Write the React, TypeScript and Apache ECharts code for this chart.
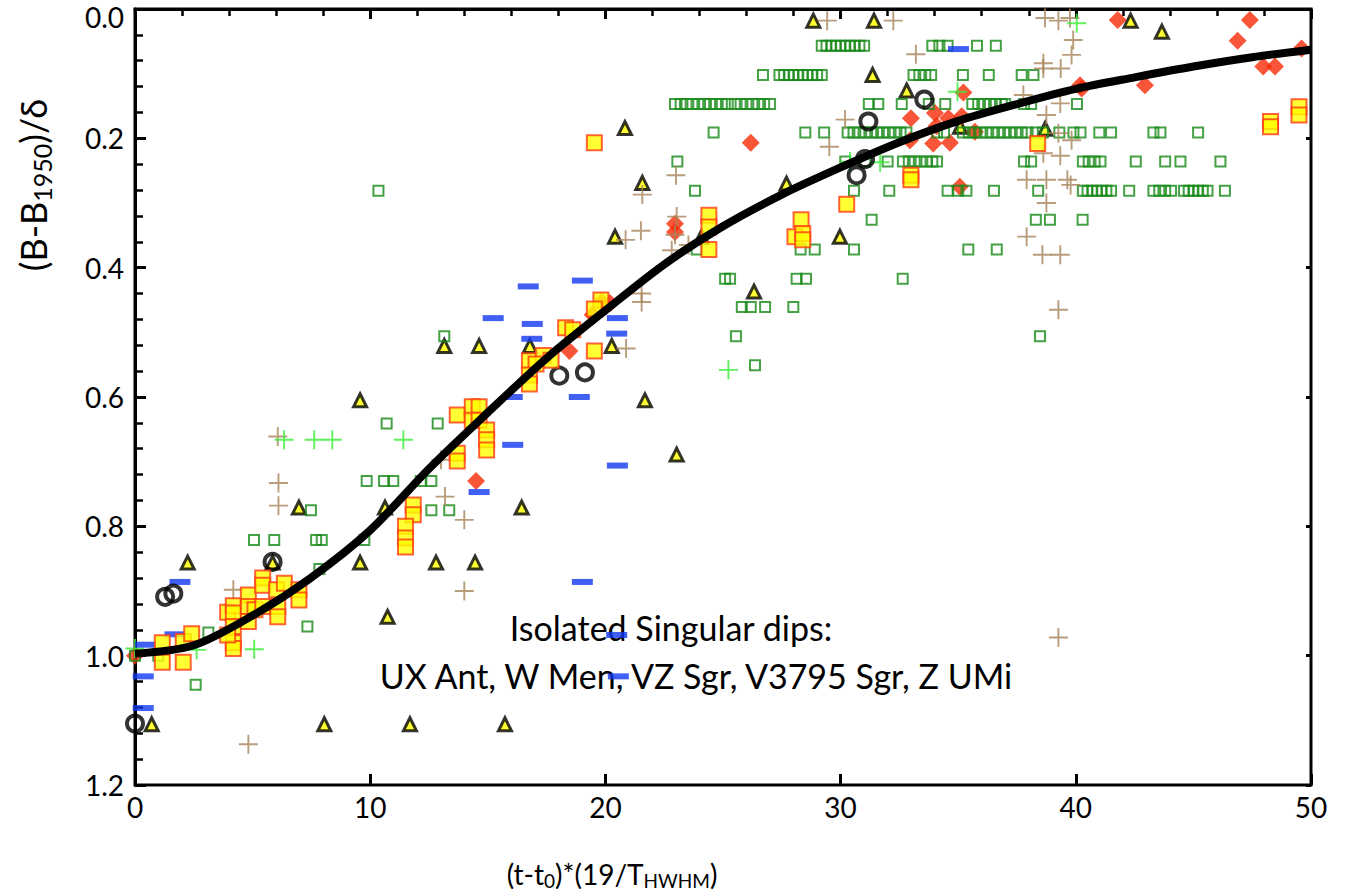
import React, { useEffect, useRef } from "react";
import * as echarts from "echarts";

// Axis ranges
const X_MIN = 0, X_MAX = 50, X_STEP = 10;
const Y_MIN = 0, Y_MAX = 1.2, Y_STEP = 0.2;

// Fitted curve
const curveX = [0, 2.5, 5, 7.5, 10, 12.5, 15, 17.5, 20, 22.5, 25, 27.5, 30, 32.5, 35, 37.5, 40, 42.5, 45, 47.5, 50];
const curveY = [0.997, 0.984, 0.938, 0.879, 0.806, 0.711, 0.624, 0.54, 0.466, 0.395, 0.336, 0.287, 0.245, 0.206, 0.173, 0.147, 0.1235, 0.1057, 0.089, 0.0746, 0.063];

// Dark green hollow squares
const greenSquares: number[][] = [
  [29.2, 0.057], [29.4, 0.057], [29.6, 0.057], [29.8, 0.057], [30.0, 0.057], [30.2, 0.057], [30.4, 0.057], [30.6, 0.057], [30.8, 0.057], [31.0, 0.057], [33.9, 0.057], [34.2, 0.057], [34.55, 0.057], [35.8, 0.057], [36.6, 0.057],
  [26.7, 0.102], [27.4, 0.102], [27.6, 0.102], [27.8, 0.102], [28.0, 0.102], [28.2, 0.102], [28.4, 0.102], [28.6, 0.102], [28.8, 0.102], [29.0, 0.102], [29.2, 0.102], [33.1, 0.102], [33.35, 0.102], [33.6, 0.102], [33.85, 0.102], [35.2, 0.102], [36.3, 0.102], [37.7, 0.102], [38.2, 0.102],
  [22.96, 0.147], [23.2, 0.147], [23.45, 0.147], [23.7, 0.147], [23.95, 0.147], [24.2, 0.147], [24.45, 0.147], [24.7, 0.147], [24.95, 0.147], [25.2, 0.147], [25.5, 0.147], [25.75, 0.147], [26.0, 0.147], [26.25, 0.147], [26.5, 0.147], [26.75, 0.147], [27.0, 0.147], [31.2, 0.147], [31.6, 0.147], [32.6, 0.147], [33.75, 0.147], [34.45, 0.147], [35.6, 0.147], [35.85, 0.147], [36.1, 0.147], [36.35, 0.147], [36.6, 0.147], [36.85, 0.147], [37.0, 0.147], [37.8, 0.147], [38.1, 0.147], [40.05, 0.147],
  [24.6, 0.191], [28.5, 0.191], [29.3, 0.191], [30.3, 0.191], [30.55, 0.191], [30.8, 0.191], [31.05, 0.191], [31.3, 0.191], [31.55, 0.191], [31.8, 0.191], [32.05, 0.191], [32.3, 0.191], [32.55, 0.191], [32.8, 0.191], [34.1, 0.191], [34.4, 0.191], [35.2, 0.191], [35.45, 0.191], [35.7, 0.191], [35.95, 0.191], [36.2, 0.191], [36.45, 0.191], [36.7, 0.191], [36.95, 0.191], [37.2, 0.191], [37.45, 0.191], [37.7, 0.191], [37.95, 0.191], [38.3, 0.191], [38.6, 0.191], [39.3, 0.191], [39.9, 0.191], [40.2, 0.191], [41.0, 0.191], [41.5, 0.191], [43.3, 0.191], [43.6, 0.191], [45.2, 0.191],
  [23.06, 0.236], [30.2, 0.236], [31.05, 0.236], [32.0, 0.236], [32.65, 0.236], [32.9, 0.236], [33.15, 0.236], [33.4, 0.236], [33.65, 0.236], [33.9, 0.236], [34.1, 0.236], [37.8, 0.236], [38.1, 0.236], [40.3, 0.236], [40.55, 0.236], [40.8, 0.236], [41.05, 0.236], [42.55, 0.236], [43.8, 0.236], [44.45, 0.236], [46.15, 0.236],
  [10.35, 0.281], [23.81, 0.281], [30.57, 0.281], [32.07, 0.281], [34.55, 0.281], [35.0, 0.281], [35.35, 0.281], [36.52, 0.281], [38.4, 0.281], [40.3, 0.281], [40.5, 0.281], [40.7, 0.281], [40.9, 0.281], [41.1, 0.281], [41.3, 0.281], [41.5, 0.281], [42.27, 0.281], [43.3, 0.281], [43.55, 0.281], [43.8, 0.281], [44.05, 0.281], [44.6, 0.281], [44.8, 0.281], [45.0, 0.281], [45.2, 0.281], [45.4, 0.281], [45.6, 0.281], [46.34, 0.281],
  [31.32, 0.326], [38.3, 0.326], [38.9, 0.326], [40.29, 0.326],
  [23.88, 0.372], [28.3, 0.372], [28.9, 0.372], [30.57, 0.372], [35.43, 0.372], [36.64, 0.372],
  [25.09, 0.417], [25.3, 0.417], [28.13, 0.417], [28.53, 0.417], [32.64, 0.417],
  [25.8, 0.461], [26.18, 0.461], [26.79, 0.461], [27.99, 0.461],
  [13.15, 0.506], [25.55, 0.506], [38.48, 0.506], [26.36, 0.551],
  [10.7, 0.641], [12.87, 0.641],
  [9.85, 0.73], [10.59, 0.73], [10.98, 0.73], [12.15, 0.73], [12.6, 0.73],
  [7.48, 0.775], [12.6, 0.775], [13.36, 0.775],
  [5.06, 0.821], [5.92, 0.821], [7.7, 0.821], [7.94, 0.821], [9.75, 0.821],
  [7.84, 0.866], [3.12, 0.964], [7.33, 0.955], [2.58, 1.045], [0.99, 1.0], [0, 1.0],
];

// Brown plus markers
const brownPlus: number[][] = [
  [23.0, 0.257], [21.57, 0.287], [23.03, 0.321], [21.51, 0.343], [20.86, 0.357], [22.96, 0.349], [22.82, 0.373], [23.53, 0.365],
  [29.43, 0.018], [32.24, 0.018], [33.2, 0.07], [30.19, 0.171], [29.52, 0.213], [37.77, 0.133], [37.91, 0.264], [37.91, 0.352],
  [38.69, 0.014], [39.26, 0.018], [39.75, 0.014], [39.89, 0.048], [39.82, 0.071], [38.62, 0.084], [38.62, 0.092], [39.36, 0.092],
  [39.34, 0.146], [38.75, 0.164], [39.26, 0.192], [39.82, 0.203], [38.62, 0.223], [39.34, 0.227], [38.75, 0.264], [39.64, 0.264],
  [39.78, 0.272], [38.75, 0.3], [38.58, 0.38], [39.34, 0.38],
  [21.54, 0.44], [21.54, 0.453], [20.88, 0.525], [13.01, 0.697], [13.18, 0.754], [14.0, 0.79],
  [39.26, 0.465], [6.07, 0.661], [6.1, 0.733], [6.1, 0.768], [4.18, 0.898], [4.82, 1.137], [14.0, 0.9], [39.26, 0.972],
];

// Bright green plus markers
const greenPlus: number[][] = [
  [34.97, 0.128], [30.4, 0.236], [31.68, 0.237], [40.04, 0.022], [6.34, 0.666], [7.62, 0.666], [8.39, 0.666],
  [11.41, 0.666], [25.23, 0.558], [0, 0.989], [2.62, 0.991], [5.07, 0.99],
];

// Blue dashes
const blueDash: number[][] = [
  [35.01, 0.062], [16.72, 0.429], [19.02, 0.42], [15.23, 0.478], [16.89, 0.487], [20.51, 0.478], [16.87, 0.51],
  [20.48, 0.502], [16.04, 0.6], [18.89, 0.6], [16.06, 0.674], [20.51, 0.706], [14.63, 0.747], [1.91, 0.886],
  [0.45, 0.983], [1.7, 0.967], [0.35, 1.032], [0.35, 1.081], [19.02, 0.886], [20.48, 0.968], [20.55, 1.032],
];

// Yellow triangles
const triangles: number[][] = [
  [20.83, 0.184], [21.57, 0.269], [20.41, 0.352], [24.09, 0.352], [28.84, 0.018], [31.42, 0.018], [31.36, 0.102],
  [32.81, 0.126], [35.08, 0.182], [27.7, 0.27], [29.97, 0.352], [42.33, 0.018], [43.66, 0.035], [38.7, 0.185],
  [9.57, 0.605], [6.97, 0.771], [10.63, 0.771], [13.15, 0.521], [14.63, 0.521], [16.79, 0.521], [20.27, 0.521],
  [21.68, 0.605], [23.03, 0.689], [16.44, 0.771], [26.32, 0.437], [2.24, 0.856], [5.85, 0.856], [9.57, 0.856],
  [10.74, 0.94], [0.71, 1.106], [8.05, 1.106], [11.69, 1.106], [12.8, 0.856], [14.46, 0.856], [15.73, 1.106],
];

// Black hollow circles
const circles: number[][] = [
  [33.56, 0.14], [31.18, 0.174], [31.04, 0.232], [30.68, 0.257], [18.04, 0.567], [19.13, 0.562],
  [5.85, 0.855], [1.28, 0.909], [1.63, 0.904], [0, 1.105],
];

// Red diamonds
const diamonds: number[][] = [
  [22.96, 0.332], [22.96, 0.345], [26.18, 0.207], [35.22, 0.129], [32.99, 0.169], [34.01, 0.161], [34.58, 0.169],
  [35.15, 0.166], [34.08, 0.181], [35.71, 0.19], [32.95, 0.203], [33.94, 0.208], [34.65, 0.207], [35.07, 0.275],
  [41.78, 0.017], [47.4, 0.017], [46.88, 0.049], [49.6, 0.061], [47.97, 0.089], [48.47, 0.089], [40.18, 0.118],
  [40.25, 0.123], [42.94, 0.118], [19.84, 0.453], [20.2, 0.455], [19.46, 0.473], [18.47, 0.529], [14.5, 0.73], [0, 1.0],
];

// Yellow squares with red border
const yellowSquares: number[][] = [
  [19.53, 0.207], [24.4, 0.319], [24.4, 0.337], [24.4, 0.372], [28.32, 0.326], [28.06, 0.352], [28.39, 0.347],
  [28.39, 0.357], [30.26, 0.302], [32.99, 0.257], [32.99, 0.264], [38.38, 0.208], [48.28, 0.174], [48.28, 0.182],
  [49.49, 0.151], [49.49, 0.164],
  [11.83, 0.767], [11.83, 0.782], [11.5, 0.8], [11.5, 0.818], [11.5, 0.832],
  [19.81, 0.45], [19.53, 0.464], [18.31, 0.493], [18.61, 0.496], [19.53, 0.529], [16.77, 0.544], [17.36, 0.536],
  [17.69, 0.543], [17.05, 0.549], [16.77, 0.566], [16.77, 0.58], [13.7, 0.628], [14.34, 0.615], [14.63, 0.615],
  [14.34, 0.636], [14.63, 0.636], [14.95, 0.651], [14.95, 0.666], [14.95, 0.682], [13.7, 0.687], [13.7, 0.699],
  [1.16, 0.98], [1.16, 1.01], [2.05, 0.978], [2.05, 1.01], [2.41, 0.966], [3.94, 0.933], [4.18, 0.923],
  [4.18, 0.934], [4.18, 0.955], [4.18, 0.98], [4.18, 0.989], [3.94, 0.968], [4.82, 0.906], [4.82, 0.924],
  [4.82, 0.947], [5.1, 0.929], [5.43, 0.88], [5.43, 0.891], [5.43, 0.924], [6.02, 0.898], [6.07, 0.924],
  [6.07, 0.94], [6.35, 0.888], [6.97, 0.898], [6.97, 0.914],
];

const annotationLines = ["Isolated Singular dips:", "UX Ant, W Men, VZ Sgr, V3795 Sgr, Z UMi"];
const topTickLabel = "0.0";

const FONT = "Lato";
const PLUS = "path://M4.5,0H5.5V4.5H10V5.5H5.5V10H4.5V5.5H0V4.5H4.5Z";

const GRID_L = 135, GRID_T = 9, GRID_R = 46, GRID_B = 109;
const GRID_W = 1357 - GRID_L - GRID_R;
const GRID_H = 894 - GRID_T - GRID_B;

export default function App() {
  const ref = useRef<HTMLDivElement>(null);
  useEffect(() => {
    const chart = echarts.init(ref.current!, null, { renderer: "svg" });
    const baseAxis = { type: "value", min: X_MIN, max: X_MAX, interval: X_STEP };
    const baseYAxis = { type: "value", min: Y_MIN, max: Y_MAX, interval: Y_STEP, inverse: true };
    const curveData = curveX.map((x, i) => [x, curveY[i]]);
    chart.setOption({
      animation: false,
      backgroundColor: "#fff",
      grid: { left: GRID_L, top: GRID_T, right: GRID_R, bottom: GRID_B, show: true, borderColor: "#000", borderWidth: 3, backgroundColor: "transparent" },
      xAxis: [
        {
          ...baseAxis,
          position: "bottom",
          axisLine: { show: true, lineStyle: { color: "#000", width: 3 } },
          axisTick: { show: true, inside: false, length: 10, lineStyle: { color: "#000", width: 3 } },
          minorTick: { show: true, splitNumber: 5, length: 7, lineStyle: { color: "#000", width: 2.5 } },
          splitLine: { show: false },
          axisLabel: { color: "#000", fontFamily: FONT, fontSize: 28, margin: 8 },
        },
        {
          // helper axis moved onto the bottom edge: draws the inner half of the crossing major ticks
          ...baseAxis,
          position: "top",
          offset: -GRID_H,
          axisLine: { show: false },
          axisTick: { show: true, inside: false, length: 11, lineStyle: { color: "#000", width: 3 } },
          splitLine: { show: false },
          axisLabel: { show: false },
        },
      ],
      yAxis: [
        {
          ...baseYAxis,
          position: "left",
          axisLine: { show: true, lineStyle: { color: "#000", width: 3 } },
          axisTick: { show: true, inside: true, length: 11, lineStyle: { color: "#000", width: 3 } },
          minorTick: { show: true, splitNumber: 5, length: 8, lineStyle: { color: "#000", width: 2.5 } },
          splitLine: { show: false },
          axisLabel: {
            color: "#000", fontFamily: FONT, fontSize: 28, margin: 11,
            formatter: (v: number) => (v === 0 ? "" : v.toFixed(1)),
          },
        },
        {
          // helper axis moved onto the left edge: draws the outer stub of the crossing major ticks
          ...baseYAxis,
          position: "right",
          offset: -GRID_W,
          axisLine: { show: false },
          axisTick: { show: true, inside: true, length: 5, lineStyle: { color: "#000", width: 3 } },
          splitLine: { show: false },
          axisLabel: { show: false },
        },
      ],
      graphic: [
        {
          type: "text", x: 124, y: 17, z: 0,
          style: { text: topTickLabel, font: `28px ${FONT}`, fill: "#000", textAlign: "right", textVerticalAlign: "middle" },
        },
        {
          type: "text", x: 671, y: 627, z: 0,
          style: { text: annotationLines[0], font: `34px ${FONT}`, fill: "#000", textAlign: "center", textVerticalAlign: "middle" },
        },
        {
          type: "text", x: 696, y: 675, z: 0,
          style: { text: annotationLines[1], font: `34px ${FONT}`, fill: "#000", textAlign: "center", textVerticalAlign: "middle" },
        },
        {
          type: "text", x: 612, y: 874,
          style: {
            text: "{a|(t-t}{s|0}{a|)*(19/T}{s|HWHM}{a|)}",
            textAlign: "center", textVerticalAlign: "middle",
            rich: {
              a: { fontFamily: FONT, fontSize: 28, color: "#000", lineHeight: 32, verticalAlign: "middle" },
              s: { fontFamily: FONT, fontSize: 19, color: "#000", lineHeight: 32, verticalAlign: "bottom" },
            },
          },
        },
        {
          type: "text", x: 33, y: 185, rotation: Math.PI / 2,
          style: {
            text: "{a|(B-B}{s|1950}{a|)/δ}",
            textAlign: "center", textVerticalAlign: "middle",
            rich: {
              a: { fontFamily: FONT, fontSize: 36, color: "#000", lineHeight: 42, verticalAlign: "middle" },
              s: { fontFamily: FONT, fontSize: 25, color: "#000", lineHeight: 42, verticalAlign: "bottom" },
            },
          },
        },
      ],
      series: [
        {
          type: "scatter", name: "triangles", data: triangles, symbol: "triangle", symbolSize: 13,
          itemStyle: { color: "#ffff00", borderColor: "#000", borderWidth: 3 },
        },
        {
          type: "line", name: "fit", data: curveData, smooth: 0.3, showSymbol: false, symbol: "none",
          lineStyle: { color: "#000", width: 8 },
        },
        {
          type: "scatter", name: "diamonds", data: diamonds, symbol: "diamond", symbolSize: 18,
          itemStyle: { color: "#f82c08", borderWidth: 0 },
        },
        {
          type: "scatter", name: "greenSquares", data: greenSquares, symbol: "rect", symbolSize: 10,
          itemStyle: { color: "rgba(0,0,0,0)", borderColor: "#168a16", borderWidth: 2 },
        },
        {
          type: "scatter", name: "brownPlus", data: brownPlus, symbol: PLUS, symbolSize: 19,
          itemStyle: { color: "#a8845a", borderWidth: 0 },
        },
        {
          type: "scatter", name: "greenPlus", data: greenPlus, symbol: PLUS, symbolSize: 19,
          itemStyle: { color: "#36ee36", borderWidth: 0 },
        },
        {
          type: "scatter", name: "blueDash", data: blueDash, symbol: "rect", symbolSize: [21, 6],
          itemStyle: { color: "#1238f0", borderWidth: 0 },
        },
        {
          type: "scatter", name: "circles", data: circles, symbol: "circle", symbolSize: 16,
          itemStyle: { color: "rgba(0,0,0,0)", borderColor: "#000", borderWidth: 4 },
        },
        {
          type: "scatter", name: "yellowSquares", data: yellowSquares, symbol: "rect", symbolSize: 15,
          itemStyle: { color: "#ffff00", borderColor: "#ff3c10", borderWidth: 2 },
        },
      ],
    });
    return () => chart.dispose();
  }, []);
  return (
    <div
      ref={ref}
      style={{ position: "absolute", left: 0, top: 0, width: 1357, height: 894, background: "#fff" }}
    />
  );
}
